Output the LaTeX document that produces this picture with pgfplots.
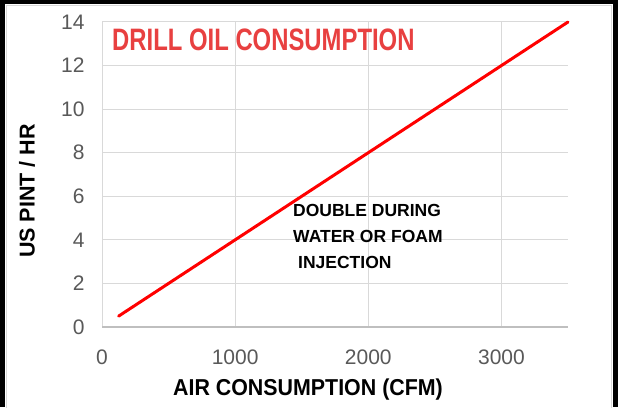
\documentclass[border=0pt]{standalone}
\usepackage{pgfplots}
\pgfplotsset{compat=1.18}
\usepackage{fontspec}
\setmainfont{Liberation Sans}
\definecolor{ttl}{RGB}{232,64,64}
\definecolor{tickc}{RGB}{89,89,89}
\definecolor{gridc}{RGB}{217,217,217}
\definecolor{axc}{RGB}{191,191,191}
\begin{document}
\begin{tikzpicture}[x=1pt,y=1pt]
\fill[black] (0,0) rectangle (618,407);
\fill[white] (5,0) rectangle (613,403);
\draw[gridc, line width=1.2pt] (6.5,-1) -- (6.5,401.5) -- (611.5,401.5) -- (611.5,-1);
\begin{axis}[at={(102pt,80pt)}, anchor=south west, scale only axis,
  width=466pt, height=305pt,
  xmin=0, xmax=3500, ymin=0, ymax=14,
  xtick={0,1000,2000,3000}, ytick={0,2,...,14},
  grid=major, major grid style={gridc, line width=1pt},
  axis line style={draw=none},
  tick style={draw=none},
  ticklabel style={font=\fontsize{21}{22}\selectfont, text=tickc},
  /pgf/number format/assume math mode=true,
  /pgf/number format/1000 sep={},
  xticklabel style={yshift=-19pt},
  yticklabel style={xshift=-14pt},
  clip=false,
]
\draw[axc, line width=1.2pt] (axis cs:0,0) -- (axis cs:3500,0);
\addplot[red, line width=3pt, line cap=round] coordinates {(125,0.5) (3500,14)};
\end{axis}
\node[anchor=west, text=ttl, inner sep=0] at (112,367)
  {\scalebox{0.77}[1]{\fontsize{31}{33}\selectfont\bfseries DRILL OIL CONSUMPTION}};
\node[anchor=center, inner sep=0] at (308,17.5)
  {\scalebox{0.93}[1]{\fontsize{23}{25}\selectfont\bfseries AIR CONSUMPTION (CFM)}};
\node[anchor=center, rotate=90, inner sep=0] at (27,216)
  {\fontsize{21.5}{23}\selectfont\bfseries US PINT / HR};
\node[anchor=west, inner sep=0] at (293,197) {\fontsize{17.5}{19}\selectfont\bfseries DOUBLE DURING};
\node[anchor=west, inner sep=0] at (293,171) {\fontsize{17.5}{19}\selectfont\bfseries WATER OR FOAM};
\node[anchor=west, inner sep=0] at (298,145) {\fontsize{17.5}{19}\selectfont\bfseries INJECTION};
\end{tikzpicture}
\end{document}
